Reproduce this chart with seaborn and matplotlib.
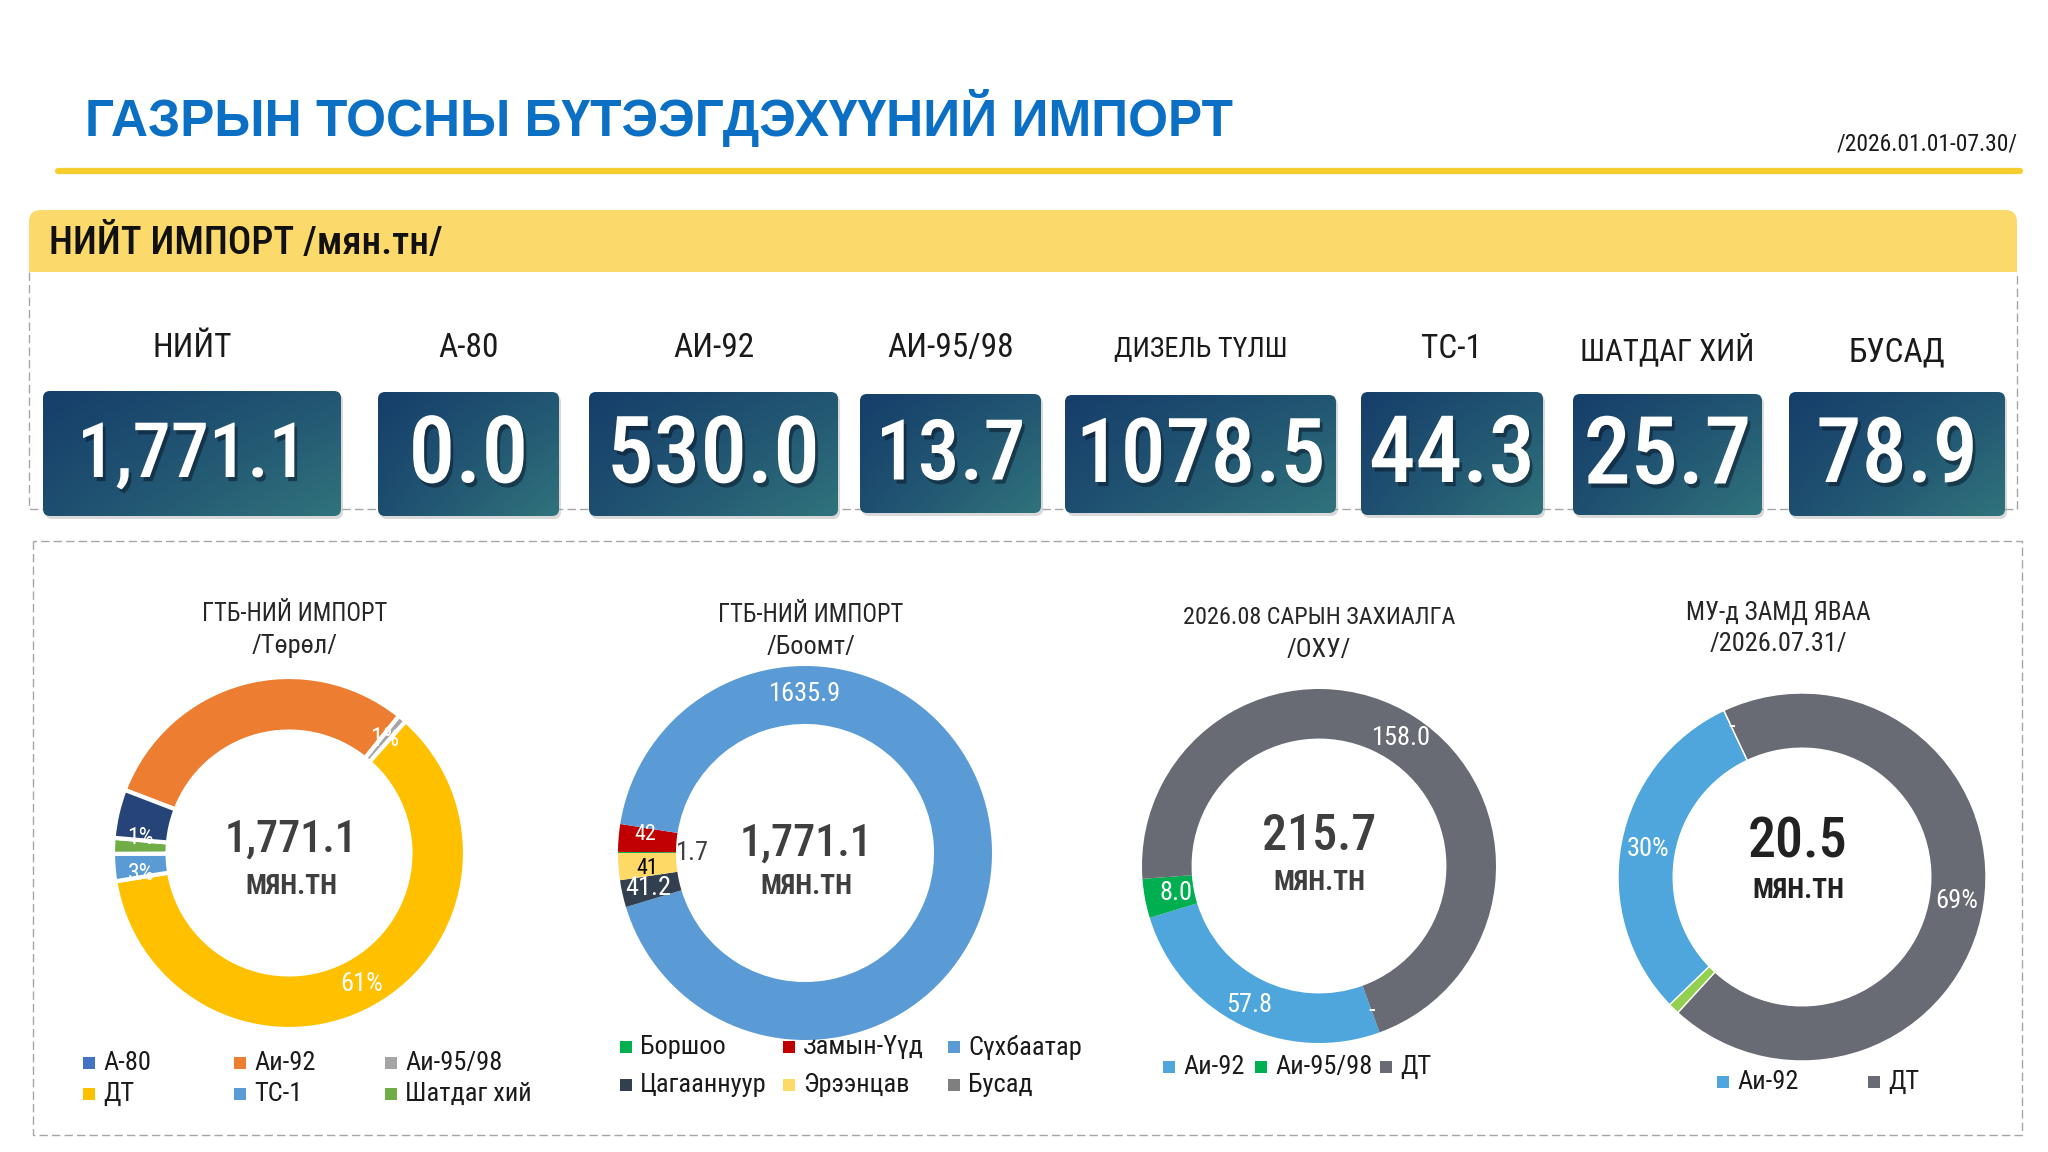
import os
import numpy as np
import pandas as pd
import seaborn as sns
import matplotlib
matplotlib.use("Agg")
import matplotlib.pyplot as plt
from matplotlib.patches import FancyBboxPatch
import matplotlib.patheffects as pe
import matplotlib.font_manager as fm
from matplotlib.font_manager import FontProperties
from matplotlib.colors import to_rgb

# ---------------- data ----------------
title_text = "ГАЗРЫН ТОСНЫ БҮТЭЭГДЭХҮҮНИЙ ИМПОРТ"
date_text = "/2026.01.01-07.30/"
band_text = "НИЙТ ИМПОРТ /мян.тн/"

kpi_labels = ["НИЙТ", "А-80", "АИ-92", "АИ-95/98", "ДИЗЕЛЬ ТҮЛШ", "ТС-1", "ШАТДАГ ХИЙ", "БУСАД"]
kpi_values = ["1,771.1", "0.0", "530.0", "13.7", "1078.5", "44.3", "25.7", "78.9"]

type_names = ["А-80", "Аи-92", "Аи-95/98", "ДТ", "ТС-1", "Шатдаг хий", "Бусад"]
type_values = [0.0, 530.0, 13.7, 1078.5, 44.3, 25.7, 78.9]
type_labels = ["", "", "1%", "61%", "3%", "1%", ""]
type_colors = ["#4472C4", "#ED7D31", "#A5A5A5", "#FFC000", "#5B9BD5", "#70AD47", "#264478"]

port_names = ["Боршоо", "Замын-Үүд", "Сүхбаатар", "Цагааннуур", "Эрээнцав", "Бусад"]
port_values = [1.7, 42.0, 1635.9, 41.2, 41.0, 0.0]
port_labels = ["1.7", "42", "1635.9", "41.2", "41", ""]
port_colors = ["#00B050", "#C00000", "#5B9BD5", "#323F4F", "#FFD966", "#7F7F7F"]

order_names = ["", "Аи-92", "Аи-95/98", "ДТ"]
order_values = [0.0, 57.8, 8.0, 158.0]
order_labels = ["-", "57.8", "8.0", "158.0"]
order_colors = ["#FFFFFF", "#4EA6DC", "#00B050", "#686A74"]

transit_names = ["Аи-92", "", "ДТ", "Аи-95/98"]
transit_values = [6.2, 0.0, 14.1, 0.2]
transit_labels = ["30%", "-", "69%", ""]
transit_colors = ["#4EA6DC", "#FFFFFF", "#686A74", "#92D050"]

donut_titles = [("ГТБ-НИЙ ИМПОРТ", "/Төрөл/"), ("ГТБ-НИЙ ИМПОРТ", "/Боомт/"),
                ("2026.08 САРЫН ЗАХИАЛГА", "/ОХУ/"), ("МУ-д ЗАМД ЯВАА", "/2026.07.31/")]
donut_totals = ["1,771.1", "1,771.1", "215.7", "20.5"]
unit_text = "МЯН.ТН"

# ---------------- fonts ----------------
sns.set_theme(style="white")
plt.rcParams["font.family"] = ["Liberation Sans", "DejaVu Sans"]

_files = {}
for _f in fm.fontManager.ttflist:
    _files.setdefault(os.path.basename(_f.fname).lower(), _f.fname)
for _p in fm.findSystemFonts():
    _files.setdefault(os.path.basename(_p).lower(), _p)


def pick(cands):
    for c in cands:
        if c in _files:
            return _files[c]
    return None


REG = pick(["robotocondensed-regular.ttf", "liberationsansnarrow-regular.ttf",
            "notosans-condensed.ttf", "opensans_condensed-regular.ttf", "dejavusanscondensed.ttf"])
BLD = pick(["robotocondensed-bold.ttf", "liberationsansnarrow-bold.ttf",
            "notosans-condensedbold.ttf", "opensans_condensed-bold.ttf", "opensans-condbold.ttf",
            "dejavusanscondensed-bold.ttf"])
MED = pick(["robotocondensed-medium.ttf", "notosans-condensedmedium.ttf"]) or BLD


def fp(kind, size):
    path = {"r": REG, "b": BLD, "m": MED}[kind]
    if path:
        return FontProperties(fname=path, size=size)
    return FontProperties(family=["DejaVu Sans"], stretch="condensed",
                          weight="bold" if kind != "r" else "normal", size=size)


W, H = 2048, 1152
fig = plt.figure(figsize=(W / 100, H / 100), dpi=100)
fig.patch.set_facecolor("white")
bg = fig.add_axes([0, 0, 1, 1])
bg.set_xlim(0, W)
bg.set_ylim(H, 0)
bg.axis("off")
renderer = fig.canvas.get_renderer()


def fit(t, maxw):
    bb = t.get_window_extent(renderer)
    if bb.width > maxw:
        t.set_fontsize(t.get_fontsize() * maxw / bb.width)
    return t


def T(ax, x, y, s, kind, size, maxw=None, **kw):
    kw.setdefault("ha", "center")
    kw.setdefault("va", "center")
    t = ax.text(x, y, s, fontproperties=fp(kind, size), **kw)
    if maxw:
        fit(t, maxw)
    return t


# title
tt = bg.text(85, 118, title_text, color="#0B6FC4", fontsize=41, fontweight="bold",
             family=["Liberation Sans", "DejaVu Sans"], va="center", ha="left")
fit(tt, 1150)
T(bg, 2018, 144, date_text, "r", 21, maxw=180, color="#1a1a1a", ha="right")
bg.plot([58, 2020], [171, 171], color="#F6CD2E", lw=4.5, solid_capstyle="round")

# yellow band
bg.add_patch(FancyBboxPatch((29, 210), 1988, 62, boxstyle="round,pad=0,rounding_size=12",
                            facecolor="#FCD96B", edgecolor="none"))
bg.add_patch(plt.Rectangle((29, 250), 1988, 22, facecolor="#FCD96B", edgecolor="none"))
T(bg, 49, 244, band_text, "m", 36, maxw=395, color="#111111", ha="left")

dash = dict(color="#A6A6A6", lw=1.0, ls=(0, (6, 3)))
bg.plot([29, 29, 2017, 2017], [272, 509, 509, 272], **dash)
bg.plot([33, 33, 2022, 2022, 33], [541, 1135, 1135, 541, 541], **dash)

# KPI boxes
boxes = [(43, 391, 298, 125), (378, 392, 181, 124), (589, 392, 249, 124), (860, 394, 181, 119),
         (1065, 395, 271, 118), (1361, 392, 182, 123), (1573, 394, 189, 121), (1789, 392, 216, 124)]
val_w = [230, 120, 213, 150, 250, 166, 168, 162]
label_y = [348, 348, 348, 348, 349, 349, 349, 352]
c0 = np.array(to_rgb("#163E6A"))
c1 = np.array(to_rgb("#30737C"))
u, v = np.meshgrid(np.linspace(0, 1, 64), np.linspace(0, 1, 64))
tgrad = np.clip(0.3 * v + 0.45 * u + 0.25 * u * v, 0, 1)[..., None]
grad = c0 * (1 - tgrad) + c1 * tgrad
for (x0, y0, bw, bh), lab, val, ly, vw in zip(boxes, kpi_labels, kpi_values, label_y, val_w):
    cx = x0 + bw / 2
    T(bg, cx, ly, lab, "r", 24, maxw=175, color="#1a1a1a")
    bg.add_patch(FancyBboxPatch((x0 + 2, y0 + 3), bw, bh, boxstyle="round,pad=0,rounding_size=7",
                                facecolor="#000000", alpha=0.15, edgecolor="none"))
    patch = FancyBboxPatch((x0, y0), bw, bh, boxstyle="round,pad=0,rounding_size=7",
                           facecolor="none", edgecolor="none")
    bg.add_patch(patch)
    im = bg.imshow(grad, extent=(x0, x0 + bw, y0 + bh, y0), origin="upper",
                   aspect="auto", interpolation="bilinear", zorder=2)
    im.set_clip_path(patch)
    T(bg, cx, y0 + bh / 2 + 3, val, "m", 80, maxw=vw, color="white", zorder=3,
      path_effects=[pe.withSimplePatchShadow(offset=(2, -3), shadow_rgbFace="#0a1a2a", alpha=0.55)])
bg.set_xlim(0, W)
bg.set_ylim(H, 0)

# ---------------- donuts ----------------
donuts = [
    dict(vals=type_values, cols=type_colors, labs=type_labels, start=159, width=0.31, lw=3.0,
         c=(289, 853), r=176, lab_cols=["white"] * 7, lab_r=[0.85] * 7,
         nudge={4: 3.0, 5: -3.5}, lab_size=[18, 18, 18, 19, 17, 17, 18]),
    dict(vals=port_values, cols=port_colors, labs=port_labels, start=180, width=0.31, lw=0,
         c=(805, 853), r=187,
         lab_cols=["#404040", "white", "white", "white", "black", "white"],
         lab_r=[0.6, 0.86, 0.85, 0.86, 0.85, 0.85], over={2: 90},
         nudge={1: -2.0, 4: 1.5}, lab_size=[19, 16, 19, 19, 16, 18]),
    dict(vals=order_values, cols=order_colors, labs=order_labels, start=-70, width=0.28, lw=0,
         c=(1319, 866), r=177, lab_cols=["white"] * 4, lab_r=[0.87, 0.88, 0.82, 0.86],
         lab_size=[19] * 4),
    dict(vals=transit_values, cols=transit_colors, labs=transit_labels, start=-136, width=0.30, lw=1.0,
         c=(1802, 877), r=184, lab_cols=["white"] * 4, lab_r=[0.85, 0.9, 0.85, 0.85],
         lab_size=[19] * 4),
]
for d in donuts:
    cx, cy = d["c"]
    r = d["r"]
    ax = fig.add_axes([(cx - r) / W, 1 - (cy + r) / H, 2 * r / W, 2 * r / H])
    wedges, _ = ax.pie(d["vals"], colors=d["cols"], startangle=d["start"], counterclock=False,
                       radius=1.0,
                       wedgeprops=dict(width=d["width"], edgecolor="white", linewidth=d["lw"]))
    ax.set_xlim(-1.0, 1.0)
    ax.set_ylim(-1.0, 1.0)
    ax.set_aspect("equal")
    ax.axis("off")
    over = d.get("over", {})
    nudge = d.get("nudge", {})
    for i, (w, lab) in enumerate(zip(wedges, d["labs"])):
        if not lab:
            continue
        a = over.get(i, (w.theta1 + w.theta2) / 2) + nudge.get(i, 0.0)
        ang = np.deg2rad(a)
        rr = d["lab_r"][i]
        T(ax, rr * np.cos(ang), rr * np.sin(ang), lab, "r", d["lab_size"][i], color=d["lab_cols"][i])

# donut titles & centre texts
title_pos = [(295, 614, 646), (811, 615, 647), (1319, 618, 650), (1778, 613, 644)]
title_w = [185, 185, 272, 185]
centre_pos = [(291, 840, 886), (806, 844, 887), (1319, 837, 883), (1798, 842, 890)]
centre_w = [133, 133, 114, 100]
centre_cols = ["#3F3F3F", "#3F3F3F", "#3F3F3F", "#222222"]
for (t1, t2), (tx, ty1, ty2), tw, tot, (px, py1, py2), pw, cc in zip(
        donut_titles, title_pos, title_w, donut_totals, centre_pos, centre_w, centre_cols):
    T(bg, tx, ty1, t1, "r", 19, maxw=tw, color="#262626")
    T(bg, tx, ty2, t2, "r", 19, maxw=tw, color="#262626")
    T(bg, px, py1, tot, "m", 60, maxw=pw, color=cc)
    T(bg, px, py2, unit_text, "b", 21, maxw=92, color=cc)

# legends (square markers + text)
legends = [
    ([(0, 89, 1063), (1, 240, 1063), (2, 391, 1063), (3, 89, 1094), (4, 240, 1094), (5, 391, 1094)],
     type_names, type_colors),
    ([(0, 626, 1047), (1, 789, 1047), (2, 954, 1047), (3, 626, 1085), (4, 789, 1085), (5, 954, 1085)],
     port_names, port_colors),
    ([(1, 1169, 1067), (2, 1261, 1067), (3, 1386, 1067)], order_names, order_colors),
    ([(0, 1723, 1082), (2, 1874, 1082)], transit_names, transit_colors),
]
for items, names, cols in legends:
    for idx, lx, ly in items:
        bg.scatter([lx], [ly], marker="s", s=70, color=cols[idx], linewidths=0, zorder=4)
        T(bg, lx + 14, ly, names[idx], "r", 19, color="#1a1a1a", ha="left")

bg.set_xlim(0, W)
bg.set_ylim(H, 0)
fig.savefig("out.png", dpi=100, facecolor="white")
